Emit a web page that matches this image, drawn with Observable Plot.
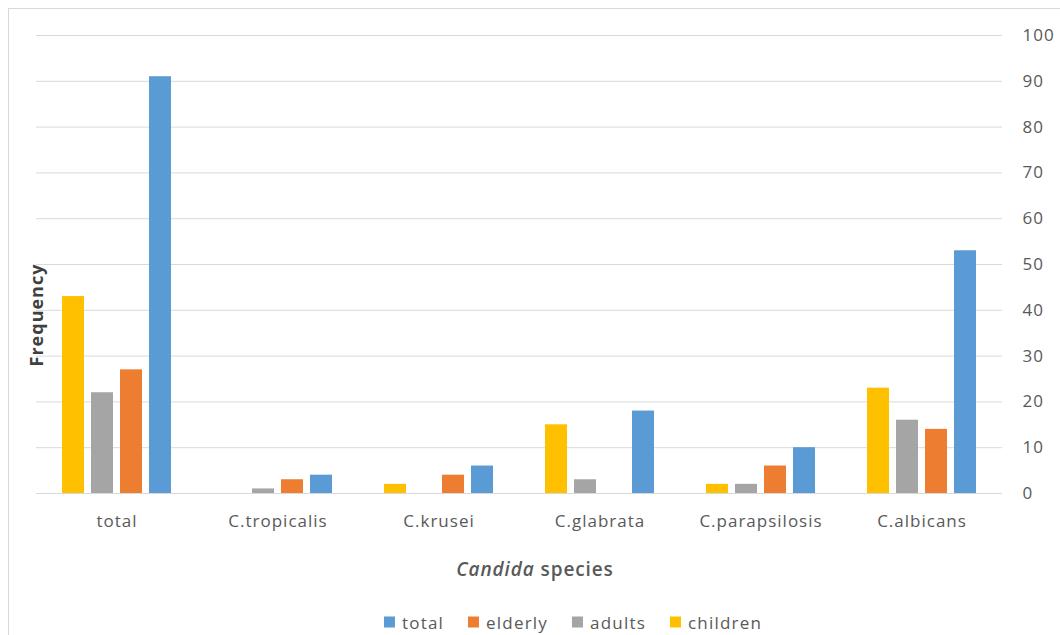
<!DOCTYPE html>
<html>
<head>
<meta charset="utf-8">
<script src="https://cdn.jsdelivr.net/npm/d3@7"></script>
<script src="https://cdn.jsdelivr.net/npm/@observablehq/plot@0.6"></script>
<style>
  html, body { margin: 0; padding: 0; background: #fff; }
  #wrap { position: relative; width: 1060px; height: 635px; overflow: hidden; font-family: "Open Sans", sans-serif; }
  #frame { position: absolute; left: 8px; top: 8px; width: 1070px; height: 650px; border: 1px solid #d9d9d9; box-sizing: border-box; }
  #chart { position: absolute; left: 0; top: 0; }
  #ytitle { position: absolute; left: 36px; top: 315px; transform: translate(-50%, -50%) rotate(-90deg); font-size: 18px; letter-spacing: 1px; font-weight: 700; color: #404040; white-space: nowrap; }
  #xtitle { position: absolute; left: 535px; top: 569px; transform: translate(-50%, -50%); font-size: 19px; letter-spacing: 0.9px; font-weight: 600; color: #595959; white-space: nowrap; }
  #legend { position: absolute; left: 573px; top: 622px; transform: translate(-50%, -50%); display: flex; gap: 24px; font-size: 17px; letter-spacing: 1.2px; color: #595959; white-space: nowrap; }
  #legend .item { display: flex; align-items: center; gap: 7px; }
  #legend .sw { width: 11px; height: 11px; display: inline-block; }
</style>
</head>
<body>
<div id="wrap">
  <div id="frame"></div>
  <div id="chart"></div>
  <div id="ytitle">Frequency</div>
  <div id="xtitle"><i>Candida</i> species</div>
  <div id="legend"></div>
</div>
<script>
const categories = ["total", "C.tropicalis", "C.krusei", "C.glabrata", "C.parapsilosis", "C.albicans"];
const series = ["children", "adults", "elderly", "total"];
const children = [43, 0, 2, 15, 2, 23];
const adults = [22, 1, 0, 3, 2, 16];
const elderly = [27, 3, 4, 0, 6, 14];
const total = [91, 4, 6, 18, 10, 53];
const colors = ["#FFC000", "#A5A5A5", "#ED7D31", "#5B9BD5"];
const legendOrder = ["total", "elderly", "adults", "children"];
const yTicks = [0, 10, 20, 30, 40, 50, 60, 70, 80, 90, 100];

const valuesBySeries = { children, adults, elderly, total };
const rows = [];
categories.forEach((c, i) => {
  series.forEach(s => rows.push({ category: c, series: s, value: valuesBySeries[s][i] }));
});

const plot = Plot.plot({
  width: 1060,
  height: 545,
  marginLeft: 35,
  marginRight: 58,
  marginTop: 35,
  marginBottom: 52,
  style: { fontFamily: "Open Sans, sans-serif", fontSize: "17px", color: "#595959", background: "transparent", letterSpacing: "1px" },
  fx: { domain: categories, paddingInner: 0, paddingOuter: 0, label: null },
  x: { domain: series, paddingInner: 0.24, paddingOuter: 0.89, axis: null },
  y: { domain: [0, 100], label: null },
  color: { domain: series, range: colors },
  marks: [
    Plot.gridY(yTicks, { stroke: "#d9d9d9", strokeOpacity: 1, strokeWidth: 1 }),
    Plot.barY(rows, { fx: "category", x: "series", y: "value", fill: "series" }),
    Plot.axisY(yTicks, { anchor: "right", tickSize: 0, tickPadding: 20, label: null, fill: "#595959", fontSize: 17 }),
    Plot.axisFx({ anchor: "bottom", tickSize: 0, tickPadding: 21, label: null, fill: "#595959", fontSize: 17 })
  ]
});
document.getElementById("chart").appendChild(plot);

const legend = document.getElementById("legend");
legendOrder.forEach(s => {
  const item = document.createElement("div");
  item.className = "item";
  const sw = document.createElement("span");
  sw.className = "sw";
  sw.style.background = colors[series.indexOf(s)];
  const t = document.createElement("span");
  t.textContent = s;
  item.appendChild(sw);
  item.appendChild(t);
  legend.appendChild(item);
});
</script>
</body>
</html>
